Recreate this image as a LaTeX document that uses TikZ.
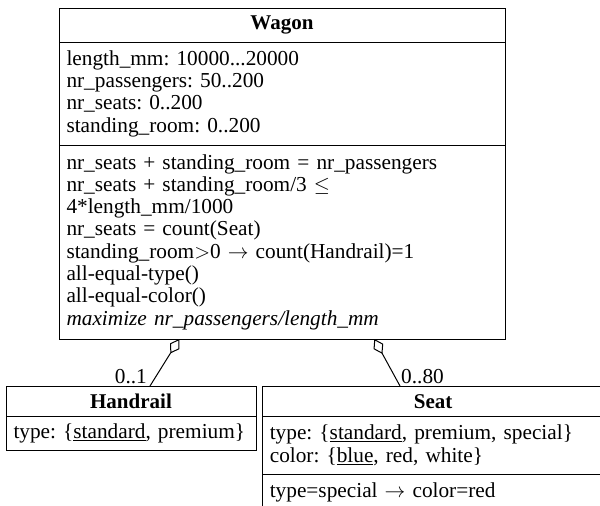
\documentclass[tikz,border=0pt]{standalone}
\usepackage{fontspec}
\setmainfont{Liberation Serif}
\usetikzlibrary{arrows.meta,calc}
\frenchspacing
\begin{document}
\begin{tikzpicture}[x=1pt,y=-1pt,
  comp/.style={draw, line width=1pt, outer sep=0pt, anchor=north west, inner xsep=7.5pt, inner ysep=0pt, align=left, font=\frenchspacing\fontsize{21.3}{22.3}\selectfont},
  ctitle/.style={comp, align=center, font=\bfseries\fontsize{21}{22.3}\selectfont},
  mult/.style={font=\fontsize{21.3}{22.3}\selectfont, inner sep=0pt},
  agg/.style={line width=1pt, -{Diamond[fill=white,length=17pt,width=11pt,line width=1pt]}}]
\useasboundingbox (0,0) rectangle (600,506);
\clip (0,0) rectangle (600,506);
% Wagon
\node[ctitle, text width=431pt, minimum height=34.3pt] (wagonT) at (59,8) {Wagon};
\node[comp, text width=431pt, minimum height=102.7pt] (wagonA) at (wagonT.south west) {length\_mm: 10000...20000\\
nr\_passengers: 50..200\\
nr\_seats: 0..200\\
standing\_room: 0..200};
\node[comp, text width=431pt, minimum height=194pt] (wagonO) at (wagonA.south west) {nr\_seats + standing\_room = nr\_passengers\\
nr\_seats + standing\_room/3 $\leq$\\
4*length\_mm/1000\\
nr\_seats = count(Seat)\\
standing\_room$>$0 $\rightarrow$ count(Handrail)=1\\
all-equal-type()\\
all-equal-color()\\
\textit{maximize nr\_passengers/length\_mm}};
% Handrail
\node[ctitle, text width=235pt, minimum height=30.7pt] (hrT) at (6,386) {Handrail};
\node[comp, text width=235pt, minimum height=34pt] (hrA) at (hrT.south west) {\mbox{type: \{\underline{standard}, premium\}}};
% Seat
\node[ctitle, text width=326.7pt, minimum height=30.7pt] (seatT) at (262.3,386) {Seat};
\node[comp, text width=326.7pt, minimum height=57.3pt] (seatA) at (seatT.south west) {type: \{\underline{standard}, premium, special\}\\
color: \{\underline{blue}, red, white\}};
\node[comp, text width=326.7pt, minimum height=36pt] (seatO) at (seatA.south west) {type=special $\rightarrow$ color=red};
% connectors
\coordinate (wL) at ($(wagonO.south west)+(120.3,0)$);
\coordinate (wR) at ($(wagonO.south west)+(315.3,0)$);
\coordinate (hE) at ($(hrT.north west)+(144,0)$);
\coordinate (sE) at ($(seatT.north west)+(137.7,0)$);
\draw[agg] (hE) -- (wL);
\draw[agg] (sE) -- (wR);
\node[mult, anchor=base east] (m1) at ($(hE)+(-3,-3)$) {0..1};
\node[mult, anchor=base west] (m2) at ($(sE)+(1,-3)$) {0..80};
\end{tikzpicture}
\end{document}
